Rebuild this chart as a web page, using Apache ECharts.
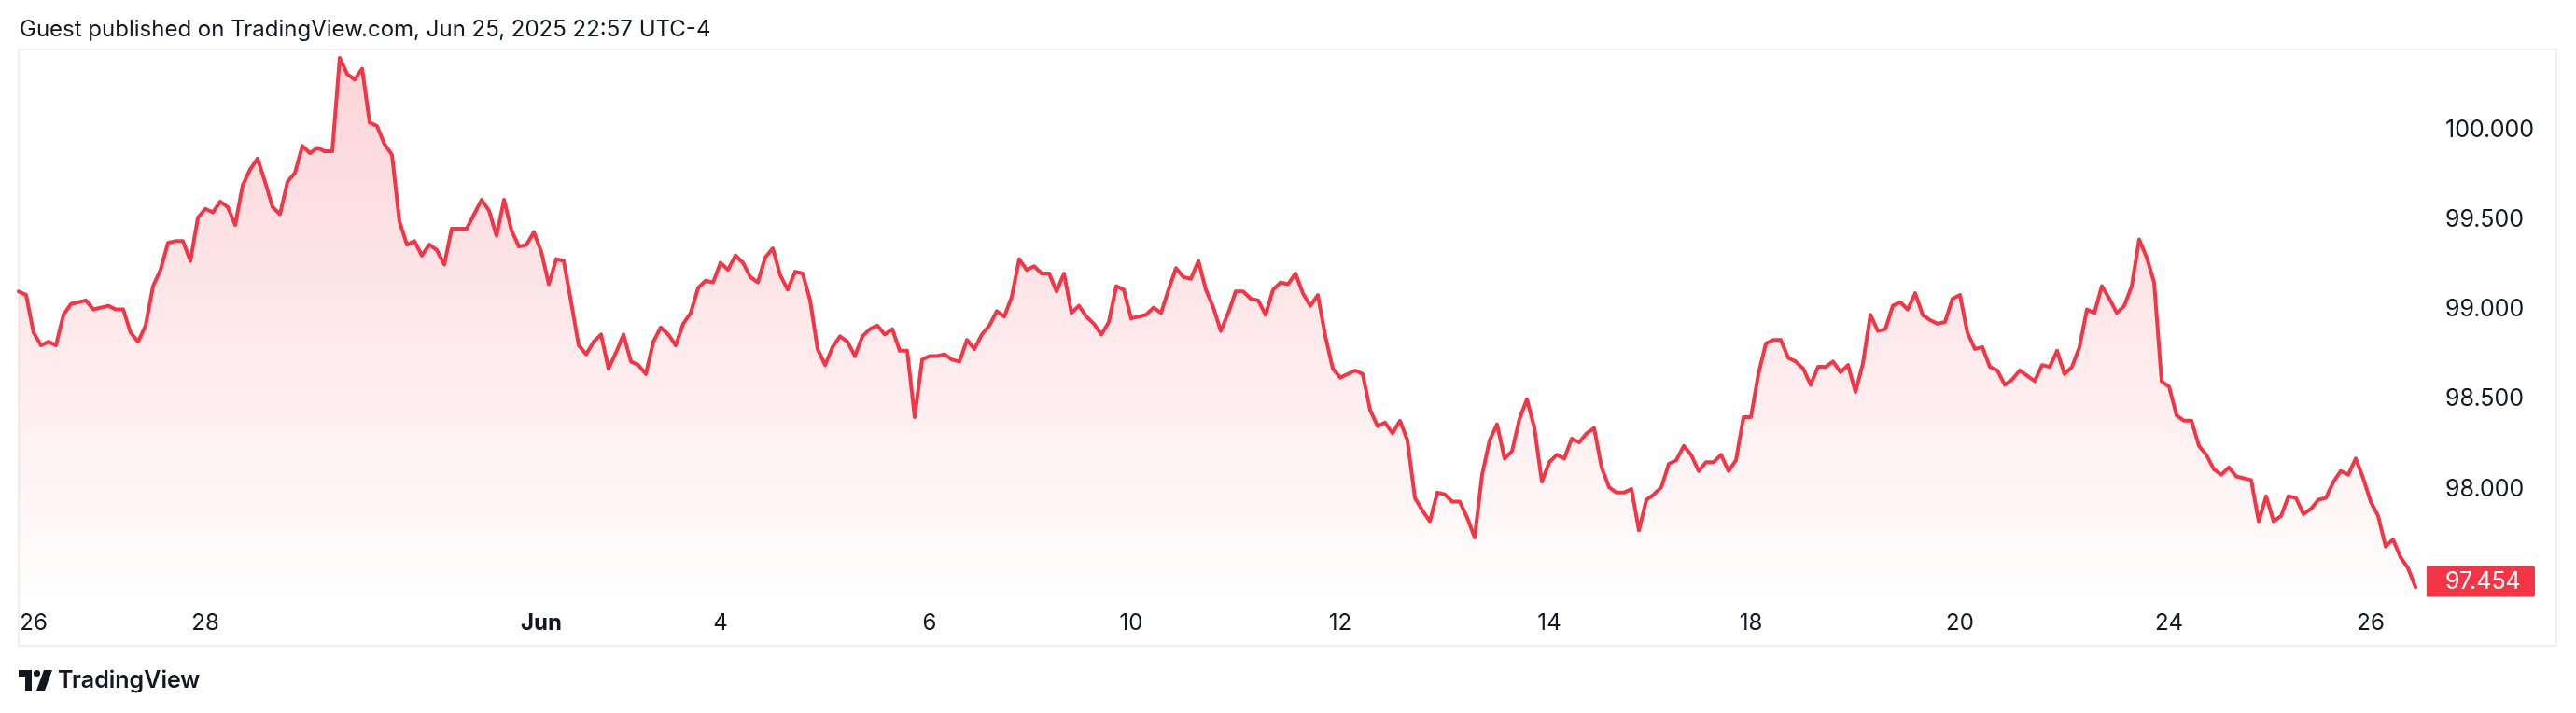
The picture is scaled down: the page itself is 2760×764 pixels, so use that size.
<!DOCTYPE html>
<html>
<head>
<meta charset="utf-8">
<script src="https://cdn.jsdelivr.net/npm/echarts@6/dist/echarts.min.js"></script>
<style>
  html, body { margin: 0; padding: 0; background: #ffffff; }
  #chart { width: 2760px; height: 764px; }
</style>
</head>
<body>
<div id="chart"></div>
<script>
// DXY-style price series, evenly spaced samples
const values = [
  99.10, 99.08, 98.87, 98.80, 98.82, 98.80, 98.97, 99.03, 99.04, 99.05,
  99.00, 99.01, 99.02, 99.00, 99.00, 98.87, 98.82, 98.91, 99.13, 99.22,
  99.37, 99.38, 99.38, 99.27, 99.51, 99.56, 99.54, 99.60, 99.57, 99.47,
  99.69, 99.78, 99.84, 99.71, 99.57, 99.53, 99.71, 99.76, 99.91, 99.87,
  99.90, 99.88, 99.88, 100.40, 100.31, 100.28, 100.34, 100.04, 100.02, 99.92,
  99.86, 99.49, 99.36, 99.38, 99.30, 99.36, 99.33, 99.25, 99.45, 99.45,
  99.45, 99.53, 99.61, 99.55, 99.41, 99.61, 99.44, 99.35, 99.36, 99.43,
  99.32, 99.14, 99.28, 99.27, 99.04, 98.80, 98.75, 98.82, 98.86, 98.67,
  98.76, 98.86, 98.71, 98.69, 98.64, 98.82, 98.90, 98.86, 98.80, 98.92,
  98.98, 99.12, 99.16, 99.15, 99.26, 99.22, 99.30, 99.26, 99.18, 99.15,
  99.29, 99.34, 99.19, 99.11, 99.21, 99.20, 99.05, 98.78, 98.69, 98.79,
  98.85, 98.82, 98.74, 98.85, 98.89, 98.91, 98.86, 98.89, 98.77, 98.77,
  98.40, 98.72, 98.74, 98.74, 98.75, 98.72, 98.71, 98.83, 98.78, 98.86,
  98.91, 98.99, 98.96, 99.07, 99.28, 99.22, 99.24, 99.20, 99.20, 99.10,
  99.20, 98.98, 99.02, 98.96, 98.92, 98.86, 98.93, 99.13, 99.11, 98.95,
  98.96, 98.97, 99.01, 98.98, 99.11, 99.23, 99.18, 99.17, 99.27, 99.11,
  99.01, 98.88, 98.98, 99.10, 99.10, 99.06, 99.05, 98.97, 99.11, 99.15,
  99.14, 99.20, 99.09, 99.02, 99.08, 98.85, 98.67, 98.62, 98.64, 98.66,
  98.64, 98.44, 98.35, 98.37, 98.31, 98.38, 98.27, 97.95, 97.88, 97.82,
  97.98, 97.97, 97.93, 97.93, 97.84, 97.73, 98.08, 98.27, 98.36, 98.17,
  98.21, 98.39, 98.50, 98.34, 98.04, 98.15, 98.19, 98.17, 98.28, 98.26,
  98.31, 98.34, 98.12, 98.01, 97.98, 97.98, 98.00, 97.77, 97.94, 97.97,
  98.01, 98.14, 98.16, 98.24, 98.19, 98.10, 98.15, 98.15, 98.19, 98.10,
  98.16, 98.40, 98.40, 98.64, 98.81, 98.83, 98.83, 98.73, 98.71, 98.67,
  98.58, 98.68, 98.68, 98.71, 98.65, 98.69, 98.54, 98.70, 98.97, 98.88,
  98.89, 99.02, 99.04, 99.00, 99.09, 98.97, 98.94, 98.92, 98.93, 99.06,
  99.08, 98.87, 98.78, 98.79, 98.68, 98.66, 98.58, 98.61, 98.66, 98.63,
  98.60, 98.69, 98.68, 98.77, 98.64, 98.68, 98.79, 99.00, 98.98, 99.13,
  99.06, 98.98, 99.02, 99.13, 99.39, 99.29, 99.15, 98.60, 98.57, 98.41,
  98.38, 98.38, 98.24, 98.19, 98.11, 98.08, 98.12, 98.07, 98.06, 98.05,
  97.82, 97.96, 97.82, 97.85, 97.96, 97.95, 97.86, 97.89, 97.94, 97.95,
  98.04, 98.10, 98.08, 98.17, 98.06, 97.93, 97.85, 97.68, 97.72, 97.62,
  97.56, 97.454
];

// time-axis labels and the sample index they sit at
const tickLabels = ['26', '28', 'Jun', '4', '6', '10', '12', '14', '18', '20', '24', '26'];
const tickIndex  = [2, 25, 70, 94, 122, 149, 177, 205, 232, 260, 288, 315];

// price-scale labels
const priceTicks = [98.0, 98.5, 99.0, 99.5, 100.0];

const headerText = 'Guest published on TradingView.com, Jun 25, 2025 22:57 UTC-4';

const categories = values.map((_, i) => String(i));

const FONT = 'Inter, "Noto Sans", sans-serif';
const RED = '#F23645';

const chart = echarts.init(document.getElementById('chart'), null, { renderer: 'canvas' });

const yMin = 97.4, yMax = 100.45;

chart.setOption({
  animation: false,
  backgroundColor: '#ffffff',
  grid: { left: 20, right: 172, top: 52.375, bottom: 124.5, containLabel: false },
  xAxis: {
    type: 'category',
    data: categories,
    boundaryGap: false,
    axisLine: { show: false },
    axisTick: { show: false },
    splitLine: { show: false },
    axisLabel: {
      interval: (idx) => tickIndex.indexOf(idx) >= 0,
      margin: 16,
      fontFamily: FONT,
      fontSize: 24,
      color: '#131722',
      formatter: (v) => {
        const k = tickIndex.indexOf(Number(v));
        if (k < 0) return '';
        const t = tickLabels[k];
        return t === 'Jun' ? '{b|Jun}' : t;
      },
      rich: { b: { fontFamily: FONT, fontSize: 24, fontWeight: 'bold', color: '#131722' } }
    }
  },
  yAxis: {
    type: 'value',
    position: 'right',
    min: yMin,
    max: yMax,
    interval: 0.05,
    axisLine: { show: false },
    axisTick: { show: false },
    splitLine: { show: false },
    axisLabel: {
      margin: 32,
      align: 'left',
      fontFamily: FONT,
      fontSize: 25,
      color: '#131722',
      showMinLabel: true,
      showMaxLabel: true,
      formatter: (v) => {
        for (const p of priceTicks) if (Math.abs(v - p) < 1e-6) return p.toFixed(3);
        return '';
      }
    }
  },
  series: [{
    type: 'line',
    data: values,
    symbol: 'none',
    smooth: false,
    lineStyle: { color: RED, width: 4, join: 'round', cap: 'round' },
    areaStyle: {
      color: new echarts.graphic.LinearGradient(0, 0, 0, 1, [
        { offset: 0, color: 'rgba(242,54,69,0.30)' },
        { offset: 1, color: 'rgba(242,54,69,0.01)' }
      ])
    },
    z: 3
  }]
});

// last-price label on the price scale
const last = values[values.length - 1];
const py = chart.convertToPixel({ yAxisIndex: 0 }, last);
const gridBottomPx = chart.convertToPixel({ yAxisIndex: 0 }, yMin);
const boxH = 33;
const boxY = Math.min(py - boxH / 2, gridBottomPx - boxH);

chart.setOption({
  graphic: [
    { type: 'rect', shape: { x: 20, y: 53, width: 2719, height: 639 },
      style: { fill: 'none', stroke: '#f0f0f0', lineWidth: 2 }, z: 0, silent: true },
    { type: 'text', x: 21, y: 32,
      style: { text: headerText, font: '24px ' + FONT, fill: '#131722', verticalAlign: 'middle', align: 'left' } },
    { type: 'rect', shape: { x: 2600, y: boxY, width: 116, height: boxH, r: [0, 2, 2, 0] },
      style: { fill: RED }, z: 10 },
    { type: 'text', x: 2620, y: boxY + boxH / 2, z: 11,
      style: { text: last.toFixed(3), font: '25px ' + FONT, fill: '#ffffff', verticalAlign: 'middle', align: 'left' } },
    // TradingView logo
    { type: 'polygon', shape: { points: [[20,718],[34,718],[34,740],[27,740],[27,725],[20,725]] },
      style: { fill: '#131722' } },
    { type: 'circle', shape: { cx: 39.5, cy: 721.5, r: 3.6 }, style: { fill: '#131722' } },
    { type: 'polygon', shape: { points: [[47,718],[56,718],[48,740],[39,740]] },
      style: { fill: '#131722' } },
    { type: 'text', x: 62, y: 729,
      style: { text: 'TradingView', font: '600 25px ' + FONT, fill: '#131722', verticalAlign: 'middle', align: 'left' } }
  ]
});
</script>
</body>
</html>
